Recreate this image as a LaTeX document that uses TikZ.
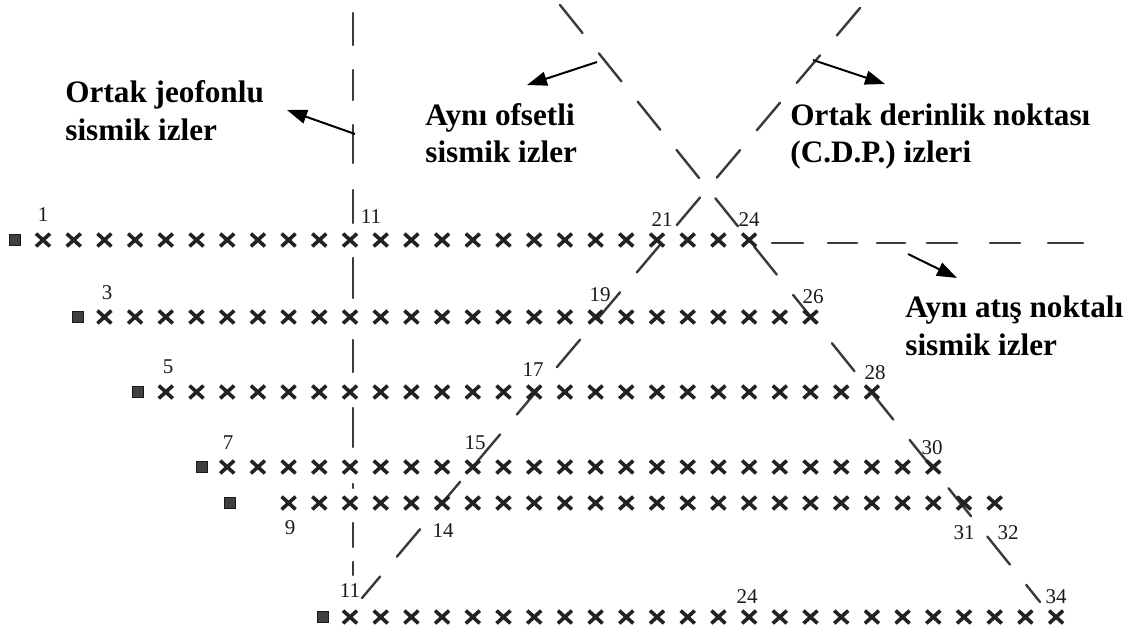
\documentclass[tikz,border=0pt]{standalone}
\usepackage{fontspec}
\setmainfont{Liberation Serif}
\usetikzlibrary{arrows.meta,shapes.misc}

\definecolor{ink}{HTML}{3A3A3A}
\definecolor{markink}{HTML}{222222}

\begin{document}
\begin{tikzpicture}[x=0.5pt,y=-0.5pt,
  recv/.style={cross out, draw=markink, line width=1.8pt, minimum width=5.2pt,
               minimum height=4.6pt, inner sep=0pt},
  shot/.style={rectangle, fill=black!75, draw=black!90, line width=0.5pt,
               minimum size=5.4pt, inner sep=0pt},
  num/.style={font=\fontsize{10.5}{12}\selectfont, text=black!90, inner sep=0pt},
  title/.style={font=\bfseries\fontsize{15.6}{19}\selectfont, inner sep=0pt,
                anchor=base west},
  guide/.style={draw=ink, line width=1.2pt, line cap=round},
  pointer/.style={draw=black, line width=1pt, -{Triangle[length=10pt,width=7pt]}}]

\useasboundingbox (0,0) rectangle (1137,634);

% common receiver gather (vertical line through receiver 11)
\foreach \t/\u in {13/45,70/100,125/163,190/223,258/298,340/372,408/447,
                   484/488,523/547,562/575}
  \draw[guide] (353,\t) -- (353,\u);

% common offset line
\coordinate (offA) at (560,5);
\coordinate (offB) at (1040,602);
\draw[guide, dash pattern=on 18pt off 13pt] (offA) -- (offB);

% common depth point line
\coordinate (cdpA) at (860,8);
\coordinate (cdpB) at (362,598);
\draw[guide, dash pattern=on 18pt off 13pt] (cdpA) -- (cdpB);

% common shot gather (horizontal line after receiver 24)
\foreach \t/\u in {772/803,828/857,877/905,927/957,990/1020,1048/1083}
  \draw[guide] (\t,243) -- (\u,243);

% shot points and receiver spreads
\foreach \r/\y/\a/\b/\sx in {1/240/1/24/15, 2/317/3/26/78, 3/392/5/28/138,
                             4/467/7/30/202, 5/503/9/32/230, 6/617/11/34/323} {
  \node[shot] (s\r) at (\sx,\y) {};
  \foreach \k in {\a,...,\b}
    \node[recv] (r\r-\k) at ({43+(\k-1)*30.7},\y) {};
}

% receiver numbers
\node[num] (n1)   at (43,215)   {1};
\node[num] (n3)   at (107,293)  {3};
\node[num] (n5)   at (168,367)  {5};
\node[num] (n7)   at (228,443)  {7};
\node[num] (n9)   at (290,528)  {9};
\node[num] (n11a) at (371,217)  {11};
\node[num] (n21)  at (662,220)  {21};
\node[num] (n24a) at (749,220)  {24};
\node[num] (n19)  at (600,295)  {19};
\node[num] (n26)  at (813,297)  {26};
\node[num] (n17)  at (533,370)  {17};
\node[num] (n28)  at (875,373)  {28};
\node[num] (n15)  at (475,443)  {15};
\node[num] (n30)  at (932,448)  {30};
\node[num] (n14)  at (443,531)  {14};
\node[num] (n31)  at (964,533)  {31};
\node[num] (n32)  at (1008,533) {32};
\node[num] (n11b) at (350,591)  {11};
\node[num] (n24b) at (747,597)  {24};
\node[num] (n34)  at (1056,597) {34};

% captions
\node[title] (c1a) at (65,102)  {Ortak jeofonlu};
\node[title] (c1b) at (65,140)  {sismik izler};
\node[title] (c2a) at (425,125) {Aynı ofsetli};
\node[title] (c2b) at (425,162) {sismik izler};
\node[title] (c3a) at (790,125) {Ortak derinlik noktası};
\node[title] (c3b) at (790,162) {(C.D.P.) izleri};
\node[title] (c4a) at (905,317) {Aynı atış noktalı};
\node[title] (c4b) at (905,355) {sismik izler};

% pointers from the lines to their captions
\coordinate (p1s) at (355,134); \coordinate (p1e) at (287,110);
\coordinate (p2s) at (597,62);  \coordinate (p2e) at (527,85);
\coordinate (p3s) at (813,60);  \coordinate (p3e) at (885,84);
\coordinate (p4s) at (908,254); \coordinate (p4e) at (957,278);
\draw[pointer] (p1s) -- (p1e);
\draw[pointer] (p2s) -- (p2e);
\draw[pointer] (p3s) -- (p3e);
\draw[pointer] (p4s) -- (p4e);

\end{tikzpicture}
\end{document}
